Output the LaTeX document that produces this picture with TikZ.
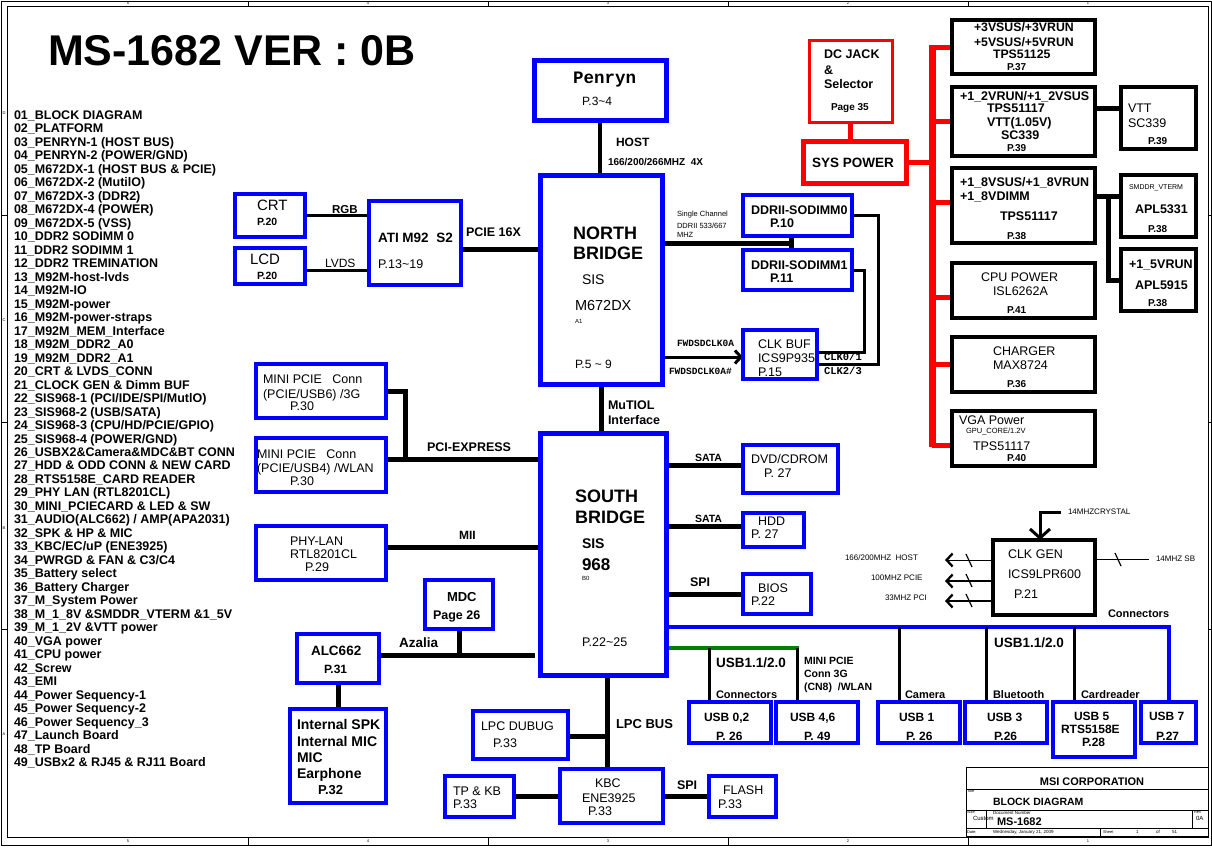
\documentclass[tikz,border=0pt]{standalone}
\usepackage{fontspec}
\setmainfont{Liberation Sans}
\newfontfamily\monof{Liberation Mono}
\usetikzlibrary{arrows.meta}
\pgfdeclarelayer{bg}
\pgfsetlayers{bg,main}
\definecolor{sblue}{RGB}{0,0,255}
\definecolor{sred}{RGB}{255,0,0}
\definecolor{sgreen}{RGB}{0,128,0}
\newcommand\fsz[1]{\fontsize{#1}{#1}\selectfont}
\newcommand\tld{\textasciitilde}
\newcounter{tn}
\newcommand\TX[5][]{\stepcounter{tn}\node[txt,font=\fsz{#4}\bfseries,#1] (t\arabic{tn}) at (#2,{#3+0.36*#4}) {#5};}
\newcommand\BX[6]{\node[#1,minimum width={(#4)-(#2)},minimum height={(#5)-(#3)},anchor=north west] (#6) at (#2,#3) {};}
\begin{document}
\begin{tikzpicture}[x=1pt,y=-1pt,
  txt/.style={inner sep=0pt,outer sep=0pt,anchor=base west},
  bx/.style={draw,inner sep=0pt,outer sep=0pt},
  bb/.style={bx,draw=sblue,line width=3.5pt},
  bbig/.style={bx,draw=sblue,line width=5pt},
  pb/.style={bx,draw=black,line width=3.3pt},
  rb/.style={bx,draw=sred,line width=3pt},
  rbig/.style={bx,draw=sred,line width=5pt},
  wk/.style={draw=black,line width=5pt},
  wm/.style={draw=black,line width=3pt},
  wt/.style={draw=black,line width=1pt},
  wr/.style={draw=sred,line width=5pt},
  wbl/.style={draw=sblue,line width=4.5pt},
  wg/.style={draw=sgreen,line width=4.5pt},
  barb/.style={-{Straight Barb[length=6pt,width=13pt,line width=2.3pt]}},
  frame/.style={draw=black,line width=1pt}]
\useasboundingbox (0,0) rectangle (1212,849);
\begin{pgfonlayer}{bg}
\fill[white] (0,0) rectangle (1212,849);
\end{pgfonlayer}

% frame
\draw[frame] (1,1) rectangle (1211,845);
\draw[frame] (7,6) rectangle (1208,837);
\foreach \x in {248,488,728,968}{\draw[frame] (\x,1) -- (\x,6); \draw[frame] (\x,837) -- (\x,845);}
\foreach \y in {215,422,629}{\draw[frame] (1,\y) -- (7,\y); \draw[frame] (1208,\y) -- (1211,\y);}
\foreach \x/\d in {128/5,368/4,608/3,848/2,1088/1}{
  \TX[anchor=base]{\x}{3.5}{4}{\mdseries\d}
  \TX[anchor=base]{\x}{841}{4}{\mdseries\d}}
\foreach \y/\d in {113/D,320/C,528/B,734/A}{\TX[anchor=base]{4}{\y}{4}{\mdseries\d}}

% title and list
\TX{48}{50.5}{43}{MS-1682 VER : 0B}
\foreach \s [count=\i] in {01\_BLOCK DIAGRAM, 02\_PLATFORM, 03\_PENRYN-1 (HOST BUS),
 04\_PENRYN-2 (POWER/GND), 05\_M672DX-1 (HOST BUS \& PCIE), 06\_M672DX-2 (MutilO),
 07\_M672DX-3 (DDR2), 08\_M672DX-4 (POWER), 09\_M672DX-5 (VSS), 10\_DDR2 SODIMM 0,
 11\_DDR2 SODIMM 1, 12\_DDR2 TREMINATION, 13\_M92M-host-lvds, 14\_M92M-IO,
 15\_M92M-power, 16\_M92M-power-straps, 17\_M92M\_MEM\_Interface, 18\_M92M\_DDR2\_A0,
 19\_M92M\_DDR2\_A1, 20\_CRT \& LVDS\_CONN, 21\_CLOCK GEN \& Dimm BUF,
 22\_SIS968-1 (PCI/IDE/SPI/MutlO), 23\_SIS968-2 (USB/SATA), 24\_SIS968-3 (CPU/HD/PCIE/GPIO),
 25\_SIS968-4 (POWER/GND), 26\_USBX2\&Camera\&MDC\&BT CONN, 27\_HDD \& ODD CONN \& NEW CARD,
 28\_RTS5158E\_CARD READER, 29\_PHY LAN (RTL8201CL), 30\_MINI\_PCIECARD \& LED \& SW,
 31\_AUDIO(ALC662) / AMP(APA2031), 32\_SPK \& HP \& MIC, 33\_KBC/EC/uP (ENE3925),
 34\_PWRGD \& FAN \& C3/C4, 35\_Battery select, 36\_Battery Charger, 37\_M\_System Power,
 38\_M\_1\_8V \&SMDDR\_VTERM \&1\_5V, 39\_M\_1\_2V \&VTT power, 40\_VGA power, 41\_CPU power,
 42\_Screw, 43\_EMI, 44\_Power Sequency-1, 45\_Power Sequency-2, 46\_Power Sequency\_3,
 47\_Launch Board, 48\_TP Board, 49\_USBx2 \& RJ45 \& RJ11 Board}
 {\node[txt,font=\fsz{12.5}\bfseries] (L\i) at (14,{115+13.48*(\i-1)+4.5}) {\s};}

% boxes
\BX{bbig}{534}{60}{666}{120}{penryn}
\BX{bbig}{540}{175}{662}{384}{nb}
\BX{bbig}{540}{433}{666}{675}{sb}
\BX{bb}{235}{194}{305}{237}{crt}
\BX{bb}{235}{248}{305}{284}{lcd}
\BX{bb,line width=4.5pt}{369}{201}{461}{285}{ati}
\BX{bb}{743}{195}{852}{236}{ddr0}
\BX{bb}{743}{250}{852}{290}{ddr1}
\BX{bb}{743}{330}{817}{379}{clkbuf}
\BX{bb}{256}{364}{386}{418}{mp1}
\BX{bb}{256}{438}{386}{492}{mp2}
\BX{bb}{256}{526}{386}{580}{phy}
\BX{bb}{743}{445}{838}{493}{dvd}
\BX{bb}{743}{513}{804}{547}{hdd}
\BX{bb}{743}{574}{811}{614}{bios}
\BX{bb}{425}{580}{493}{629}{mdc}
\BX{bb}{297}{634}{379}{683}{alc}
\BX{bb}{290}{709}{386}{803}{spk}
\BX{bb}{473}{711}{568}{759}{lpcd}
\BX{bb}{445}{776}{514}{817}{tpkb}
\BX{bb}{560}{769}{663}{823}{kbc}
\BX{bb}{709}{776}{776}{817}{flash}
\BX{bb}{689}{702}{771}{743}{usb02}
\BX{bb}{776}{702}{858}{743}{usb46}
\BX{bb}{878}{702}{960}{743}{usb1}
\BX{bb}{965}{702}{1047}{743}{usb3}
\BX{bb}{1053}{702}{1135}{757}{usb5}
\BX{bb}{1141}{702}{1196}{743}{usb7}
\BX{rb}{809}{40}{892}{122}{dcjack}
\BX{rbig}{803}{141}{906}{183}{sys}
\BX{pb}{952}{20}{1095}{74}{p1}
\BX{pb}{952}{87}{1095}{156}{p2}
\BX{pb}{952}{168}{1095}{243}{p3}
\BX{pb}{952}{263}{1095}{318}{cpu}
\BX{pb}{952}{337}{1095}{392}{chg}
\BX{pb}{952}{411}{1095}{466}{vga}
\BX{pb}{1121}{87}{1196}{149}{vtt}
\BX{pb}{1121}{175}{1196}{237}{smddr}
\BX{pb}{1121}{249}{1196}{311}{v15}
\BX{pb}{993}{540}{1095}{615}{clkgen}

% junction coordinates
\coordinate (jlv) at (340,270);
\coordinate (jpe) at (500,249);
\coordinate (jm) at (791,243);
\coordinate (jf) at (700,357);
\coordinate (jc1) at (864,352);
\coordinate (jc2) at (878,364);
\coordinate (jpc) at (405,459);
\coordinate (jmii) at (420,547);
\coordinate (jaz) at (459,655);
\coordinate (jaz2) at (535,655);
\coordinate (jl) at (607,736);
\coordinate (js1) at (700,465);
\coordinate (js2) at (700,526);
\coordinate (jsp) at (700,594);
\coordinate (jb) at (1169,627);
\coordinate (jg) at (799,648);
\coordinate (g1) at (709,648);
\coordinate (g2) at (797,648);
\coordinate (b1) at (899,627);
\coordinate (b3) at (986,627);
\coordinate (b5) at (1074,627);
\coordinate (rbt) at (932,45);
\coordinate (rbb) at (932,447);
\coordinate (r3) at (932,202);
\coordinate (r4) at (932,297);
\coordinate (r6) at (932,445);
\coordinate (jv) at (1108,108);
\coordinate (j18) at (1108,196);
\coordinate (xt) at (1061,512);
\coordinate (xk) at (1040,512);
\coordinate (s14) at (1149,559);
\coordinate (o1) at (945,560);
\coordinate (o2) at (945,581);
\coordinate (o3) at (945,601);

\begin{pgfonlayer}{bg}
\draw[draw=black,line width=4pt] (penryn.south) -- (penryn.south |- nb.north);
\draw[wm] (crt.east) -- (crt.east -| ati.west);
\draw[wm] (lcd.east |- jlv) -- (jlv -| ati.west);
\draw[wk] (ati.east |- jpe) -- (jpe -| nb.west);
\draw[wk] (jm -| nb.east) -- (jm);
\draw[wk] (jm |- ddr0.south) -- (jm |- ddr1.north);
\draw[wm,-{Straight Barb[length=6pt,width=13pt,line width=3pt]}] (jf -| nb.east) -- (jf -| clkbuf.west);
\draw[wm] (jc1 -| clkbuf.east) -- (jc1) |- (ddr1.east);
\draw[wm] (jc2 -| clkbuf.east) -- (jc2) |- (ddr0.east);
\draw[wk] (nb.south) -- (nb.south |- sb.north);
\draw[wk] (mp1.east) -| (jpc);
\draw[wk] (mp2.east |- jpc) -- (jpc -| sb.west);
\draw[wk] (phy.east |- jmii) -- (jmii -| sb.west);
\draw[wk] (alc.east |- jaz) -- (jaz2);
\draw[wk] (mdc.south) -- (jaz);
\draw[wk] (alc.south) -- (alc.south |- spk.north);
\draw[wk] (jl |- sb.south) -- (jl |- kbc.north);
\draw[wk] (lpcd.east |- jl) -- (jl);
\draw[wk] (tpkb.east) -- (tpkb.east -| kbc.west);
\draw[wk] (kbc.east) -- (kbc.east -| flash.west);
\draw[wk] (js1 -| sb.east) -- (js1 -| dvd.west);
\draw[wk] (js2 -| sb.east) -- (js2 -| hdd.west);
\draw[wk] (jsp -| sb.east) -- (jsp -| bios.west);
\draw[wbl] (jb -| sb.east) -- (jb) -- (jb |- usb7.north);
\draw[wg] (jg -| sb.east) -- (jg);
\draw[wm] (g1) -- (g1 |- usb02.north);
\draw[wm] (g2) -- (g2 |- usb46.north);
\draw[wm] (b1) -- (b1 |- usb1.north);
\draw[wm] (b3) -- (b3 |- usb3.north);
\draw[wm] (b5) -- (b5 |- usb5.north);
\draw[wr] (dcjack.south) -- (dcjack.south |- sys.north);
\draw[draw=sred,line width=7pt] (rbt) -- (rbb);
\draw[wr] (sys.east) -- (sys.east -| rbt);
\draw[wr] (p1.west -| rbt) -- (p1.west);
\draw[wr] (p2.west -| rbt) -- (p2.west);
\draw[wr] (r3) -- (r3 -| p3.west);
\draw[wr] (r4) -- (r4 -| cpu.west);
\draw[wr] (chg.west -| rbt) -- (chg.west);
\draw[wr] (r6) -- (r6 -| vga.west);
\draw[wk] (p2.east |- jv) -- (jv -| vtt.west);
\draw[wk] (p3.east |- j18) -- (j18 -| smddr.west);
\draw[wk] (j18) |- (v15.west);
\draw[wm,-{Straight Barb[length=9pt,width=20pt,line width=3pt]}] (xt) -- (xk) -- (xk |- clkgen.north);
\draw[wt] (s14 -| clkgen.east) -- (s14);
\draw[wt,barb] (o1 -| clkgen.west) -- (o1);
\draw[draw=black,line width=2pt,barb] (o2 -| clkgen.west) -- (o2);
\draw[draw=black,line width=2.5pt,barb] (o3 -| clkgen.west) -- (o3);
\end{pgfonlayer}
% slash ticks
\draw[line width=1.2pt] (1115,553) -- (1121,566);
\draw[line width=1.2pt] (966,554) -- (972,567);
\draw[line width=1.2pt] (966,574) -- (972,587);
\draw[line width=1.2pt] (966,594) -- (972,607);

% title block
\draw[frame] (966,767) rectangle (1208,836);
\draw[frame] (966,789) -- (1208,789);
\draw[frame] (966,810) -- (1208,810);
\draw[frame] (966,828) -- (1208,828);
\draw[frame] (986,810) -- (986,828);
\draw[frame] (1192,810) -- (1192,828);
\draw[frame] (1100,828) -- (1100,836);
\TX[anchor=base]{1092}{782}{11}{MSI CORPORATION}
\TX{967}{791.5}{4}{\mdseries Title}
\TX{993}{802}{10.5}{BLOCK DIAGRAM}
\TX{967}{812.5}{4}{\mdseries Size}
\TX{993}{812.5}{4.5}{\mdseries Document Number}
\TX{1194}{812.5}{4}{\mdseries Rev}
\TX{973}{818}{6}{\mdseries Custom}
\TX{997}{822}{11}{MS-1682}
\TX{1196}{818}{6}{\mdseries 0A}
\TX{967}{832}{4}{\mdseries Date:}
\TX{993}{832}{4.5}{\mdseries Wednesday, January 21, 2009}
\TX{1103}{832}{4}{\mdseries Sheet}
\TX{1136}{832}{4.5}{\mdseries 1}
\TX{1156}{832}{4.5}{\mdseries of}
\TX{1172}{832}{4.5}{\mdseries 51}

% texts: CPU / NB / video
\TX{573}{77.5}{17.5}{\monof Penryn}
\TX{582}{101.5}{12}{\mdseries P.3\tld4}
\TX{616}{142}{12}{HOST}
\TX{608}{162}{10}{166/200/266MHZ~~4X}
\TX{257}{205.5}{15}{\mdseries CRT}
\TX{257}{222}{10.5}{P.20}
\TX{250}{259}{15}{\mdseries LCD}
\TX{257}{276}{10.5}{P.20}
\TX{332}{209}{11.5}{RGB}
\TX{325}{263.5}{12}{\mdseries LVDS}
\TX{378}{238}{13.5}{ATI M92~~S2}
\TX{378}{264}{12.5}{\mdseries P.13\tld19}
\TX{466}{232}{12.5}{PCIE 16X}
\TX{573}{233}{18}{NORTH}
\TX{573}{253}{18}{BRIDGE}
\TX{582}{279}{14}{\mdseries SIS}
\TX{575}{305}{14.5}{\mdseries M672DX}
\TX{575}{321}{6}{\mdseries A1}
\TX{575}{364.5}{12}{\mdseries P.5 \tld{} 9}
% memory
\TX{677}{214}{7.5}{\mdseries Single Channel}
\TX{677}{225.5}{7.5}{\mdseries DDRII 533/667}
\TX{677}{235}{7.5}{\mdseries MHZ}
\TX{751}{210}{12.5}{DDRII-SODIMM0}
\TX{770}{223}{12.5}{P.10}
\TX{751}{265}{12.5}{DDRII-SODIMM1}
\TX{770}{278}{12.5}{P.11}
\TX{758}{344}{12.5}{\mdseries CLK BUF}
\TX{758}{358}{12.5}{\mdseries ICS9P935}
\TX{758}{372}{12.5}{\mdseries P.15}
\TX{677}{343}{9.5}{\monof FWDSDCLK0A}
\TX{669}{371}{9.5}{\monof FWDSDCLK0A\#}
\TX{824}{357}{10.5}{\monof CLK0/1}
\TX{824}{371}{10.5}{\monof CLK2/3}
% power
\TX{824}{54}{12.5}{DC JACK}
\TX{824}{70}{12.5}{\&}
\TX{824}{84}{12.5}{Selector}
\TX{831}{107}{10}{Page 35}
\TX{812}{163}{13.5}{SYS POWER}
\TX{974}{27.5}{12.3}{+3VSUS/+3VRUN}
\TX{974}{42.5}{12.3}{+5VSUS/+5VRUN}
\TX{993}{54}{12.3}{TPS51125}
\TX{1007}{67}{10}{P.37}
\TX{960}{95.5}{12.5}{+1\_2VRUN/+1\_2VSUS}
\TX{987}{107.5}{12.5}{TPS51117}
\TX{987}{122}{12.5}{VTT(1.05V)}
\TX{1001}{135}{12.5}{SC339}
\TX{1007}{147.5}{10}{P.39}
\TX{1128}{108}{12.5}{\mdseries VTT}
\TX{1128}{123}{12.5}{\mdseries SC339}
\TX{1148}{141}{10}{P.39}
\TX{960}{182}{12.5}{+1\_8VSUS/+1\_8VRUN}
\TX{960}{196}{12.5}{+1\_8VDIMM}
\TX{1000}{215.5}{12.5}{TPS51117}
\TX{1007}{236}{10}{P.38}
\TX{1129}{186.5}{7}{\mdseries SMDDR\_VTERM}
\TX{1135}{209}{12.5}{APL5331}
\TX{1148}{229}{10}{P.38}
\TX{1129}{264}{12.5}{+1\_5VRUN}
\TX{1135}{285}{12.5}{APL5915}
\TX{1148}{303}{10}{P.38}
\TX{981}{277}{12.5}{\mdseries CPU POWER}
\TX{993}{291}{12.5}{\mdseries ISL6262A}
\TX{1007}{310}{10}{P.41}
\TX{993}{351}{12.5}{\mdseries CHARGER}
\TX{993}{365}{12.5}{\mdseries MAX8724}
\TX{1007}{384}{10}{P.36}
\TX{959}{419.5}{12.5}{\mdseries VGA Power}
\TX{966}{431}{7.5}{\mdseries GPU\_CORE/1.2V}
\TX{973}{446}{12.5}{\mdseries TPS51117}
\TX{1007}{458}{10}{P.40}
% left middle
\TX{263}{378.5}{12.5}{\mdseries MINI PCIE~~~Conn}
\TX{263}{393.5}{12.5}{\mdseries (PCIE/USB6) /3G}
\TX{290}{405.5}{12.5}{\mdseries P.30}
\TX{257}{453.5}{12.5}{\mdseries MINI PCIE~~~Conn}
\TX{257}{468}{12.5}{\mdseries (PCIE/USB4) /WLAN}
\TX{290}{480.5}{12.5}{\mdseries P.30}
\TX{290}{540.5}{12.5}{\mdseries PHY-LAN}
\TX{290}{554}{12.5}{\mdseries RTL8201CL}
\TX{305}{567}{12.5}{\mdseries P.29}
\TX{427}{447}{12.5}{PCI-EXPRESS}
\TX{459}{535}{12}{MII}
\TX{608}{405}{12.5}{MuTIOL}
\TX{608}{420}{12.5}{Interface}
% south bridge
\TX{575}{496.5}{18}{SOUTH}
\TX{575}{517}{18}{BRIDGE}
\TX{582}{543.5}{14}{SIS}
\TX{582}{564.5}{17}{968}
\TX{582}{578}{6}{\mdseries B0}
\TX{582}{642}{12.5}{\mdseries P.22\tld25}
\TX{695}{458}{10.5}{SATA}
\TX{695}{519}{10.5}{SATA}
\TX{690}{582}{12.5}{SPI}
\TX{751}{459}{12.5}{\mdseries DVD/CDROM}
\TX{764}{473}{12.5}{\mdseries P. 27}
\TX{758}{521}{12.5}{\mdseries HDD}
\TX{751}{534}{12.5}{\mdseries P. 27}
\TX{758}{588}{12.5}{\mdseries BIOS}
\TX{751}{601}{12.5}{\mdseries P.22}
% clock gen
\TX{1008}{554}{12.5}{\mdseries CLK GEN}
\TX{1008}{574}{12.5}{\mdseries ICS9LPR600}
\TX{1014}{594}{12.5}{\mdseries P.21}
\TX{845}{558}{8}{\mdseries 166/200MHZ~~HOST}
\TX{871}{578}{8}{\mdseries 100MHZ PCIE}
\TX{885}{598}{8}{\mdseries 33MHZ PCI}
\TX{1068}{512}{8}{\mdseries 14MHZCRYSTAL}
\TX{1156}{559}{8}{\mdseries 14MHZ SB}
\TX{1108}{614}{11}{Connectors}
% usb
\TX{716}{663}{13.5}{USB1.1/2.0}
\TX{804}{661}{10.5}{MINI PCIE}
\TX{804}{674}{10.5}{Conn 3G}
\TX{804}{687}{10.5}{(CN8)~~/WLAN}
\TX{716}{695}{11}{Connectors}
\TX{905}{695}{11}{Camera}
\TX{994}{643}{13.5}{USB1.1/2.0}
\TX{993}{695}{11}{Bluetooth}
\TX{1081}{695}{11}{Cardreader}
\TX{704}{717}{12}{USB 0,2}
\TX{716}{736}{12}{P. 26}
\TX{790}{717}{12}{USB 4,6}
\TX{804}{736}{12}{P. 49}
\TX{899}{717}{12}{USB 1}
\TX{906}{736}{12}{P. 26}
\TX{987}{717}{12}{USB 3}
\TX{994}{736}{12}{P.26}
\TX{1074}{716}{12}{USB 5}
\TX{1061}{729.5}{12}{RTS5158E}
\TX{1082}{742.5}{12}{P.28}
\TX{1149}{716}{12}{USB 7}
\TX{1156}{736}{12}{P.27}
% bottom left
\TX{447}{596.5}{13}{MDC}
\TX{433}{615}{12.5}{Page 26}
\TX{311}{650.5}{13.5}{ALC662}
\TX{324}{669}{12}{P.31}
\TX{399}{643}{13.5}{Azalia}
\TX{297}{724}{14}{Internal SPK}
\TX{297}{741}{14}{Internal MIC}
\TX{297}{757}{14}{MIC}
\TX{297}{773.5}{14}{Earphone}
\TX{318}{789.5}{13}{P.32}
\TX{481}{725.5}{12.5}{\mdseries LPC DUBUG}
\TX{493}{743}{12.5}{\mdseries P.33}
\TX{616}{724}{13}{LPC BUS}
\TX{453}{790.5}{12.5}{\mdseries TP \& KB}
\TX{453}{804}{12.5}{\mdseries P.33}
\TX{595}{783}{12.5}{\mdseries KBC}
\TX{582}{797.5}{12.5}{\mdseries ENE3925}
\TX{588}{810.5}{12.5}{\mdseries P.33}
\TX{677}{785}{12.5}{SPI}
\TX{723}{790}{12.5}{\mdseries FLASH}
\TX{718}{804}{12.5}{\mdseries P.33}
\end{tikzpicture}
\end{document}
